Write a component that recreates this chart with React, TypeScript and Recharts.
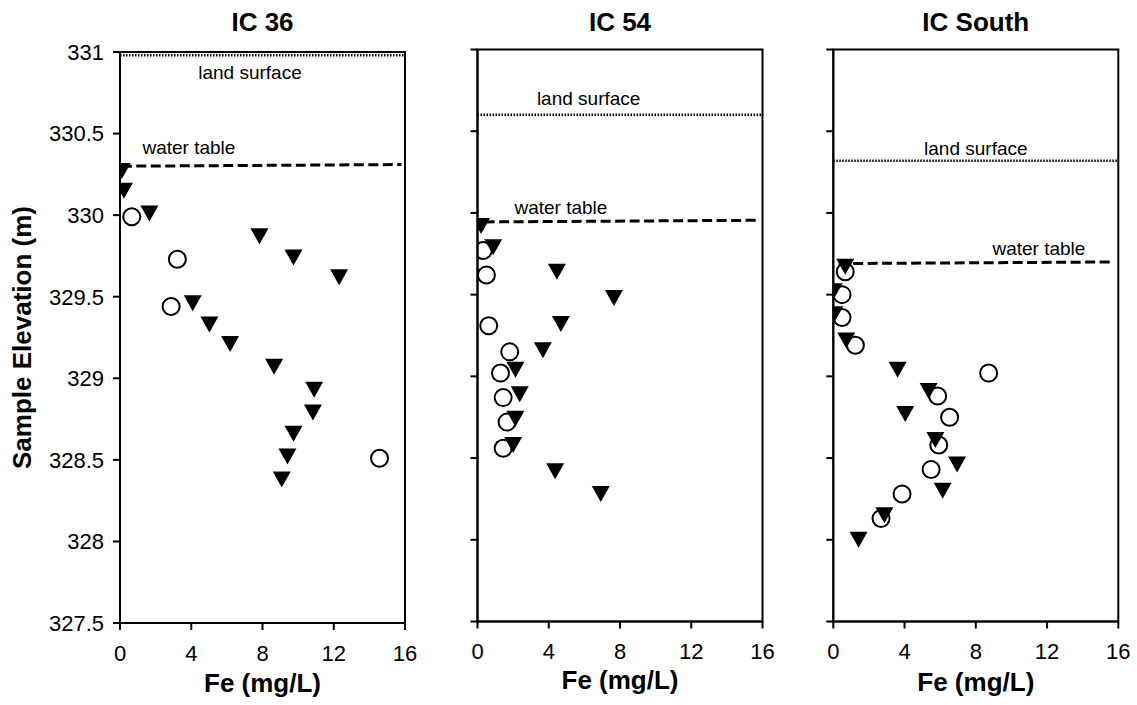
import React from 'react';
import { ScatterChart, Scatter, XAxis, YAxis, ReferenceLine, ReferenceArea } from 'recharts';

const FONT = '"Liberation Sans", Arial, Helvetica, sans-serif';

// axes
const feTicks = [0, 4, 8, 12, 16];
const elevTicks = [327.5, 328, 328.5, 329, 329.5, 330, 330.5, 331];

// IC 36  (Fe mg/L, elevation m)
const ic36Filled = [
  { fe: 0.1, elev: 330.27 }, { fe: 0.22, elev: 330.15 }, { fe: 1.65, elev: 330.01 },
  { fe: 7.83, elev: 329.87 }, { fe: 9.74, elev: 329.74 }, { fe: 12.3, elev: 329.62 },
  { fe: 4.08, elev: 329.46 }, { fe: 5.02, elev: 329.33 }, { fe: 6.18, elev: 329.21 },
  { fe: 8.65, elev: 329.07 }, { fe: 10.9, elev: 328.93 }, { fe: 10.83, elev: 328.79 },
  { fe: 9.74, elev: 328.66 }, { fe: 9.4, elev: 328.52 }, { fe: 9.08, elev: 328.38 },
];
const ic36Open = [
  { fe: 0.66, elev: 329.99 }, { fe: 3.22, elev: 329.73 }, { fe: 2.87, elev: 329.44 },
  { fe: 14.57, elev: 328.51 },
];
const ic36Land = 330.98;
const ic36Water = [{ fe: 0.1, elev: 330.3 }, { fe: 15.8, elev: 330.31 }];

// IC 54
const ic54Filled = [
  { fe: 0.2, elev: 329.92 }, { fe: 0.88, elev: 329.79 }, { fe: 4.46, elev: 329.64 },
  { fe: 7.66, elev: 329.48 }, { fe: 4.68, elev: 329.32 }, { fe: 3.67, elev: 329.16 },
  { fe: 2.13, elev: 329.04 }, { fe: 2.37, elev: 328.89 }, { fe: 2.13, elev: 328.74 },
  { fe: 2.0, elev: 328.58 }, { fe: 4.36, elev: 328.42 }, { fe: 6.92, elev: 328.28 },
];
const ic54Open = [
  { fe: 0.32, elev: 329.77 }, { fe: 0.5, elev: 329.62 }, { fe: 0.63, elev: 329.31 },
  { fe: 1.81, elev: 329.15 }, { fe: 1.29, elev: 329.02 }, { fe: 1.44, elev: 328.87 },
  { fe: 1.66, elev: 328.72 }, { fe: 1.44, elev: 328.56 },
];
const ic54Land = 330.6;
const ic54Water = [{ fe: 0.4, elev: 329.945 }, { fe: 15.7, elev: 329.955 }];

// IC South
const icSouthFilled = [
  { fe: 0.67, elev: 329.67 }, { fe: 0.02, elev: 329.52 }, { fe: 0.06, elev: 329.38 },
  { fe: 0.73, elev: 329.22 }, { fe: 3.61, elev: 329.04 }, { fe: 5.35, elev: 328.91 },
  { fe: 4.04, elev: 328.77 }, { fe: 5.73, elev: 328.61 }, { fe: 6.95, elev: 328.46 },
  { fe: 6.14, elev: 328.3 }, { fe: 2.87, elev: 328.15 }, { fe: 1.42, elev: 328.0 },
];
const icSouthOpen = [
  { fe: 0.67, elev: 329.64 }, { fe: 0.49, elev: 329.5 }, { fe: 0.49, elev: 329.36 },
  { fe: 1.24, elev: 329.19 }, { fe: 8.72, elev: 329.02 }, { fe: 5.86, elev: 328.88 },
  { fe: 6.53, elev: 328.75 }, { fe: 5.92, elev: 328.58 }, { fe: 5.49, elev: 328.43 },
  { fe: 3.86, elev: 328.28 }, { fe: 2.68, elev: 328.13 },
];
const icSouthLand = 330.32;
const icSouthWater = [{ fe: 0.3, elev: 329.69 }, { fe: 15.7, elev: 329.7 }];

const DownTriangle = (props: any) => {
  const { cx, cy } = props;
  if (cx == null || cy == null) return <g />;
  return <polygon points={`${cx - 9},${cy - 8} ${cx + 9},${cy - 8} ${cx},${cy + 8}`} fill="#000" />;
};

const OpenCircle = (props: any) => {
  const { cx, cy } = props;
  if (cx == null || cy == null) return <g />;
  return <circle cx={cx} cy={cy} r={8.5} fill="none" stroke="#000" strokeWidth={2} />;
};

// text placed relative to a reference line's box
const lineNote = (text: string, frac: number, dy: number) => (props: any) => {
  const vb = props.viewBox || { x: 0, y: 0, width: 0 };
  return (
    <text x={vb.x + vb.width * frac} y={vb.y + dy} textAnchor="middle" dominantBaseline="central"
      fontSize={19} fontFamily={FONT} fill="#000">
      {text}
    </text>
  );
};

const xTitle = (dy: number) => (props: any) => {
  const vb = props.viewBox || { x: 0, y: 0, width: 0 };
  return (
    <text x={vb.x + vb.width / 2} y={vb.y + dy} textAnchor="middle" dominantBaseline="central"
      fontSize={26} fontWeight="bold" fontFamily={FONT} fill="#000">
      Fe (mg/L)
    </text>
  );
};

const yTitle = (props: any) => {
  const vb = props.viewBox || { x: 0, y: 0, height: 0 };
  const x = vb.x + 22;
  const y = vb.y + vb.height / 2;
  return (
    <text x={x} y={y} transform={`rotate(-90, ${x}, ${y})`} textAnchor="middle" dominantBaseline="central"
      fontSize={26} fontWeight="bold" fontFamily={FONT} fill="#000">
      Sample Elevation (m)
    </text>
  );
};

interface PanelProps {
  title: string;
  left: number;
  width: number;
  plotLeft: number;
  plotRight: number;
  plotTop: number;
  plotBottom: number;
  filled: { fe: number; elev: number }[];
  open: { fe: number; elev: number }[];
  land: number;
  water: { fe: number; elev: number }[];
  landNote: [number, number];
  waterNote: [number, number];
  xLabelDy: number;
  showElevLabels: boolean;
}

const Panel: React.FC<PanelProps> = (p) => {
  const H = 705;
  const xAxisH = 60;
  const yAxisW = p.plotLeft - p.left;
  const axisStyle = { stroke: '#000', strokeWidth: 2 };
  return (
    <div style={{ position: 'absolute', left: p.left, top: 0, width: p.width, height: H }}>
      <ScatterChart
        width={p.width}
        height={H}
        margin={{ top: p.plotTop, right: p.left + p.width - p.plotRight, bottom: H - p.plotBottom - xAxisH, left: 0 }}
      >
        <XAxis
          type="number"
          dataKey="fe"
          domain={[0, 16]}
          ticks={feTicks}
          allowDataOverflow
          height={xAxisH}
          axisLine={axisStyle}
          tickLine={axisStyle}
          tickSize={7}
          tickMargin={15}
          tick={{ fill: '#000', fontSize: 22, fontFamily: FONT }}
          label={xTitle(p.xLabelDy)}
        />
        <YAxis
          type="number"
          dataKey="elev"
          domain={[327.5, 331]}
          ticks={elevTicks}
          allowDataOverflow
          width={yAxisW}
          axisLine={axisStyle}
          tickLine={axisStyle}
          tickSize={7}
          tickMargin={9}
          tick={{ fill: '#000', fontSize: 22, fontFamily: FONT }}
          tickFormatter={(v: number) => (p.showElevLabels ? String(v) : '')}
          label={p.showElevLabels ? yTitle : undefined}
        />
        <ReferenceArea x1={0} x2={16} y1={327.5} y2={331} fill="none" stroke="#000" strokeWidth={2} />
        <ReferenceLine
          y={p.land}
          stroke="#000"
          strokeWidth={2.5}
          strokeDasharray="1.5 1.5"
          label={lineNote('land surface', p.landNote[0], p.landNote[1])}
        />
        <ReferenceLine
          segment={[{ x: p.water[0].fe, y: p.water[0].elev }, { x: p.water[1].fe, y: p.water[1].elev }]}
          stroke="#000"
          strokeWidth={3}
          strokeDasharray="10 4.5"
          label={lineNote('water table', p.waterNote[0], p.waterNote[1])}
        />
        <Scatter data={p.open} shape={OpenCircle} isAnimationActive={false} />
        <Scatter data={p.filled} shape={DownTriangle} isAnimationActive={false} />
      </ScatterChart>
      <div
        style={{
          position: 'absolute',
          left: yAxisW,
          width: p.plotRight - p.plotLeft,
          top: 9,
          height: 26,
          lineHeight: '26px',
          textAlign: 'center',
          fontFamily: FONT,
          fontWeight: 'bold',
          fontSize: 26,
          color: '#000',
        }}
      >
        {p.title}
      </div>
    </div>
  );
};

export default function App() {
  return (
    <div style={{ position: 'absolute', left: 0, top: 0, width: 1137, height: 705, background: '#fff', overflow: 'hidden' }}>
      <Panel
        title="IC 36"
        left={0}
        width={430}
        plotLeft={120}
        plotRight={405}
        plotTop={52}
        plotBottom={623}
        filled={ic36Filled}
        open={ic36Open}
        land={ic36Land}
        water={ic36Water}
        landNote={[0.456, 17.5]}
        waterNote={[0.24, -17.5]}
        xLabelDy={60}
        showElevLabels
      />
      <Panel
        title="IC 54"
        left={440}
        width={340}
        plotLeft={477.5}
        plotRight={762.5}
        plotTop={49.5}
        plotBottom={621.5}
        filled={ic54Filled}
        open={ic54Open}
        land={ic54Land}
        water={ic54Water}
        landNote={[0.39, -16]}
        waterNote={[0.28, -13]}
        xLabelDy={58.5}
        showElevLabels={false}
      />
      <Panel
        title="IC South"
        left={790}
        width={347}
        plotLeft={833.3}
        plotRight={1118.3}
        plotTop={49.5}
        plotBottom={621.5}
        filled={icSouthFilled}
        open={icSouthOpen}
        land={icSouthLand}
        water={icSouthWater}
        landNote={[0.5, -12.5]}
        waterNote={[0.73, -13.5]}
        xLabelDy={60.5}
        showElevLabels={false}
      />
    </div>
  );
}
